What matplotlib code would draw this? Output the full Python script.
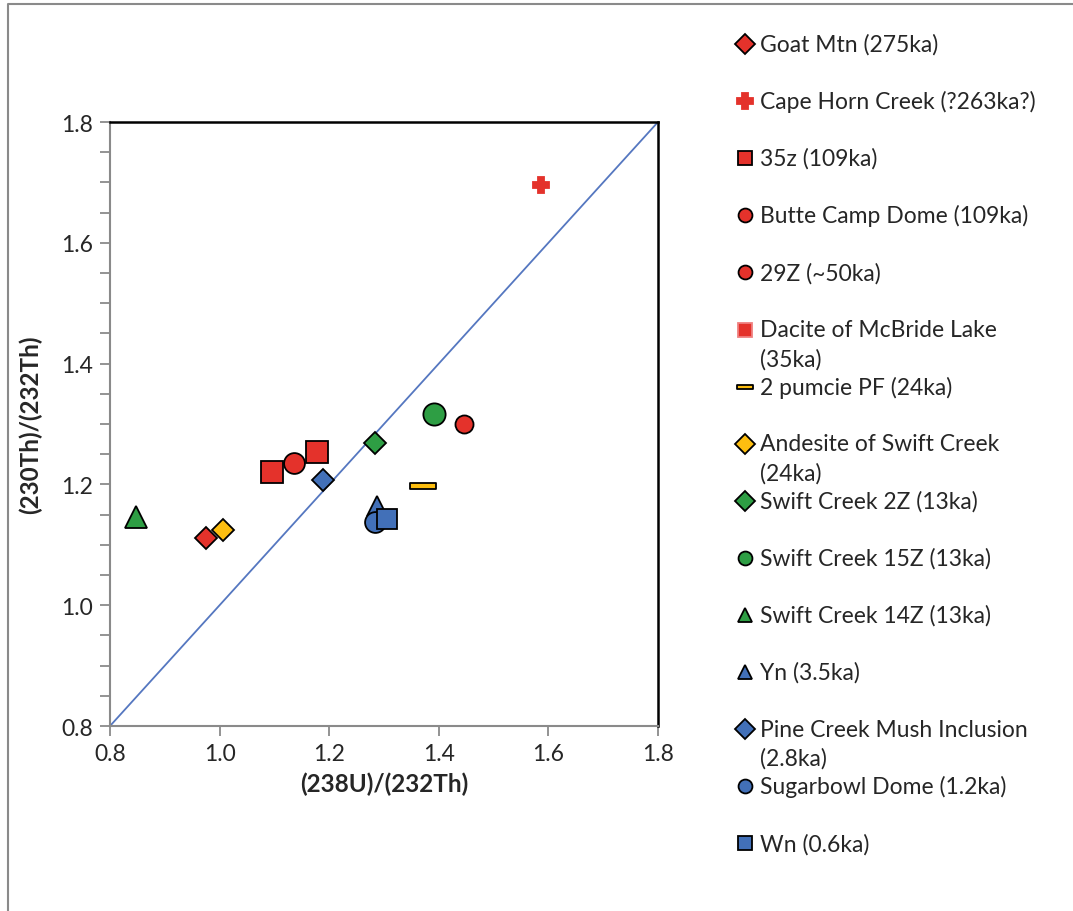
import numpy as np
import matplotlib.pyplot as plt
from matplotlib.path import Path

plt.rcParams['font.family'] = ['Lato', 'DejaVu Sans']

# sample names (legend order)
names = ['Goat Mtn (275ka)', 'Cape Horn Creek (?263ka?)', '35z (109ka)',
         'Butte Camp Dome (109ka)', '29Z (~50ka)', 'Dacite of McBride Lake\n(35ka)',
         '2 pumcie PF (24ka)', 'Andesite of Swift Creek\n(24ka)', 'Swift Creek 2Z (13ka)',
         'Swift Creek 15Z (13ka)', 'Swift Creek 14Z (13ka)', 'Yn (3.5ka)',
         'Pine Creek Mush Inclusion\n(2.8ka)', 'Sugarbowl Dome (1.2ka)', 'Wn (0.6ka)']

# (238U)/(232Th)
u238 = [0.975, 1.587, 1.096, 1.135, 1.446, 1.177, 1.372, 1.007, 1.284,
        1.391, 0.848, 1.288, 1.189, 1.283, 1.306]
# (230Th)/(232Th)
th230 = [1.111, 1.695, 1.221, 1.235, 1.300, 1.253, 1.197, 1.124, 1.269,
         1.316, 1.146, 1.165, 1.208, 1.138, 1.143]

equiline = [0.8, 1.8]

# styles
RED, GRN, BLU, YEL = '#E4322B', '#2E9E44', '#4270B8', '#FDBE10'
dash = Path([(-1, -0.22), (1, -0.22), (1, 0.22), (-1, 0.22), (-1, -0.22)],
            [Path.MOVETO, Path.LINETO, Path.LINETO, Path.LINETO, Path.CLOSEPOLY])
markers = ['D', 'P', 's', 'o', 'o', 's', dash, 'D', 'D', 'o', '^', '^', 'D', 'o', 's']
colors = [RED, RED, RED, RED, RED, RED, YEL, YEL, GRN, GRN, GRN, BLU, BLU, BLU, BLU]
msize = [11, 12, 16, 15, 13, 16, 19, 11, 11, 16, 16, 14, 11, 15, 15]
edge = ['k'] * 15
edge[1] = RED
leg_edge = list(edge)
leg_edge[5] = '#F08080'
TXT = '#262626'

fig = plt.figure(figsize=(10.73, 9.12), dpi=100)
W, H = 1073, 912

# background / figure border
bg = fig.add_axes([0, 0, 1, 1])
bg.set_xlim(0, W)
bg.set_ylim(H, 0)
bg.axis('off')
bg.plot([8, 8, W], [H, 5, 5], color='#8a8a8a', lw=1.5)

ax = fig.add_axes([110 / W, 1 - 727 / H, 548 / W, 604 / H])
ax.plot(equiline, equiline, color='#5577C0', lw=1.3, zorder=1)
for i in range(len(names)):
    ax.plot(u238[i], th230[i], linestyle='none', marker=markers[i], color=colors[i],
            markersize=msize[i], markeredgecolor=edge[i], markeredgewidth=1.3, zorder=3)

ax.set_xlim(0.8, 1.8)
ax.set_ylim(0.8, 1.8)
ax.set_xticks(np.arange(0.8, 1.81, 0.2))
ax.set_yticks(np.arange(0.8, 1.81, 0.2))
ax.set_yticks(np.arange(0.8, 1.81, 0.05), minor=True)
ax.xaxis.set_major_formatter(plt.FormatStrFormatter('%.1f'))
ax.yaxis.set_major_formatter(plt.FormatStrFormatter('%.1f'))
ax.tick_params(axis='both', labelsize=16.5, color='#8a8a8a', width=1.3, length=7,
               labelcolor=TXT, pad=5)
ax.tick_params(axis='y', which='minor', color='#8a8a8a', width=1.3, length=7)
for s in ['left', 'bottom']:
    ax.spines[s].set_color('#8a8a8a')
    ax.spines[s].set_linewidth(1.5)
for s in ['top', 'right']:
    ax.spines[s].set_color('black')
    ax.spines[s].set_linewidth(1.8)
ax.set_xlabel('(238U)/(232Th)', fontsize=17.5, fontweight='bold', labelpad=6, color=TXT)
ax.set_ylabel('(230Th)/(232Th)', fontsize=17.5, fontweight='bold', labelpad=14, color=TXT)

# legend drawn by hand so wrapped labels keep the fixed row spacing
y0, step, lstep = 45, 57.1, 29
for i, lab in enumerate(names):
    yy = y0 + i * step
    lm = 10
    if markers[i] is dash:
        lm = 12
    elif markers[i] == 'P':
        lm = 11
    bg.plot(745, yy, linestyle='none', marker=markers[i], color=colors[i],
            markersize=lm, markeredgecolor=leg_edge[i], markeredgewidth=1.3)
    for j, line in enumerate(lab.split('\n')):
        bg.text(760, yy + j * lstep, line, fontsize=16.5, va='center', ha='left',
                color=TXT)

fig.savefig('out.png', dpi=100)
